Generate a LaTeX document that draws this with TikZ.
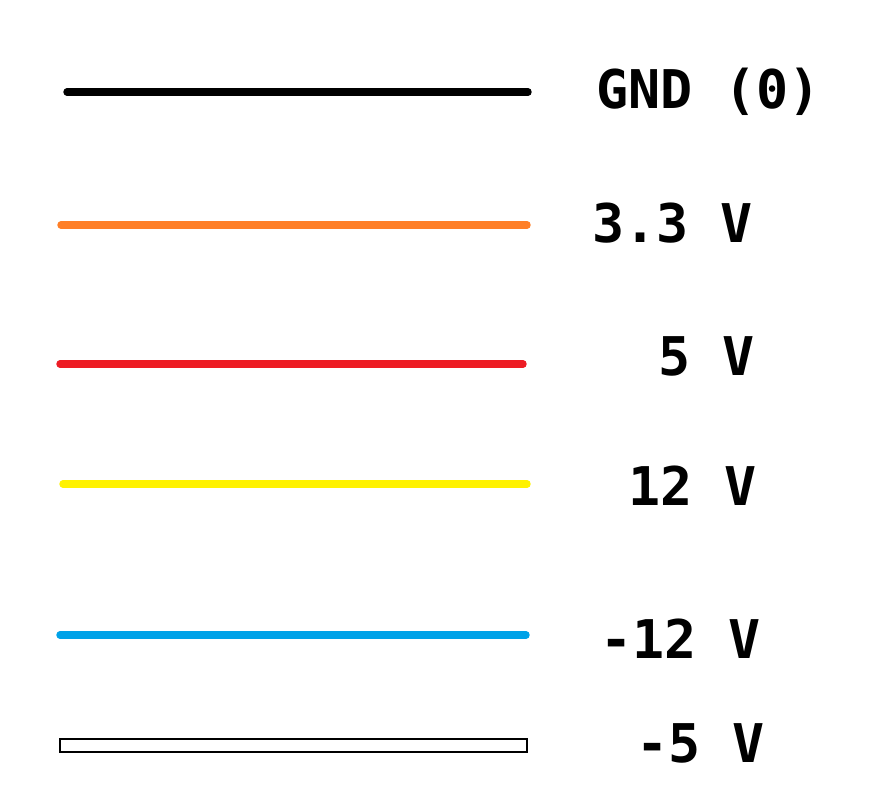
\documentclass[tikz,border=0pt]{standalone}
\usepackage{fontspec}
\setmonofont{DejaVu Sans Mono}
\usepackage{tikz}
\usepackage{xcolor}
\definecolor{wireorange}{RGB}{255,127,39}
\definecolor{wirered}{RGB}{237,28,36}
\definecolor{wireyellow}{RGB}{255,242,0}
\definecolor{wireblue}{RGB}{0,162,232}
\tikzset{
    wire/.style={line width=5.6pt,line cap=round},
    volt/.style={anchor=base west,inner sep=0pt,font=\ttfamily\bfseries\fontsize{40}{48}\selectfont}
}

\begin{document}
\begin{tikzpicture}[x=0.75pt,y=-0.75pt]
    \useasboundingbox (0,0) rectangle (888,796);
    % wires
    \draw[wire,black] (67,92)--(528,92);
    \draw[wire,wireorange] (61,225)--(527,225);
    \draw[wire,wirered] (60,364)--(523,364);
    \draw[wire,wireyellow] (63,484)--(527,484);
    \draw[wire,wireblue] (60,635)--(526,635);
    \draw[line width=0.8pt,fill=white] (60,739) rectangle (527,752);
    % labels
    \node[volt] (gnd) at (596,108) {GND (0)};
    \node[volt] (v33) at (592,242) {3.3 V};
    \node[volt] (v5) at (658,375) {5 V};
    \node[volt] (v12) at (628,505) {12 V};
    \node[volt] (vm12) at (600,658) {-12 V};
    \node[volt] (vm5) at (636,762) {-5 V};
\end{tikzpicture}
\end{document}
